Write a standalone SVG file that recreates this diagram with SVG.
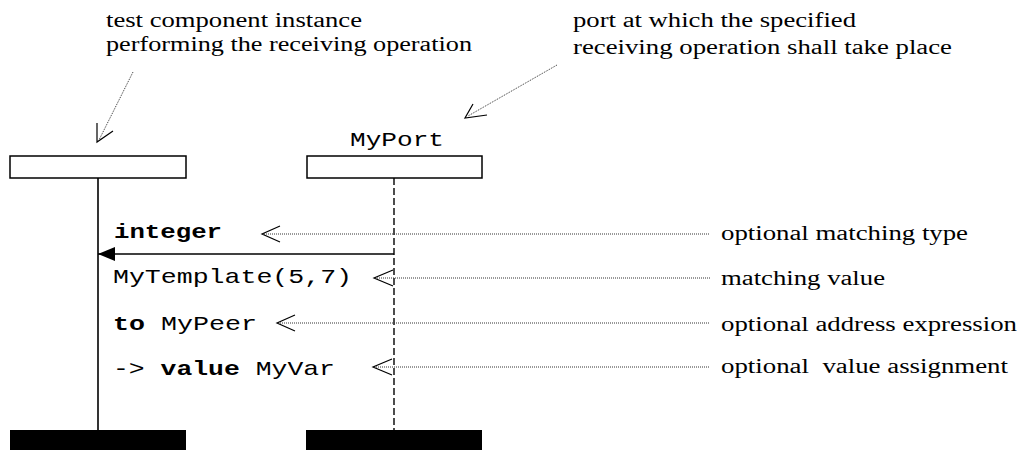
<svg xmlns="http://www.w3.org/2000/svg" width="1020" height="450" viewBox="0 0 1020 450">
<style>
.serif{font-family:"Liberation Serif","Times New Roman",Times,"DejaVu Serif",serif;font-size:20px;fill:#000}
.mono{font-family:"Liberation Mono","Courier New",Courier,"DejaVu Sans Mono",monospace;font-size:21px;fill:#000}
.b{font-weight:bold}
.box{fill:#fff;stroke:#000;stroke-width:1.5}
.bar{fill:#000}
.life{stroke:#000;stroke-width:1.6;fill:none}
.dash{stroke:#000;stroke-width:1.4;stroke-dasharray:7,3;fill:none}
.dot{stroke:#333;stroke-width:1;stroke-dasharray:1,1;fill:none}
.open{stroke:#000;stroke-width:1.2;fill:none}
.msg{stroke:#000;stroke-width:1.6;fill:none}
</style>
<defs>
<marker id="filled" markerWidth="18" markerHeight="16" refX="17" refY="8" orient="auto" markerUnits="userSpaceOnUse">
<path d="M0,1 L17,8 L0,15 Z" fill="#000"/>
</marker>
</defs>
<rect width="1020" height="450" fill="#fff"/>

<g id="note-instance">
<text class="serif" x="106" y="27" textLength="256" lengthAdjust="spacingAndGlyphs">test component instance</text>
<text class="serif" x="106" y="51" textLength="366" lengthAdjust="spacingAndGlyphs">performing the receiving operation</text>
</g>
<g id="note-port">
<text class="serif" x="573" y="27" textLength="283" lengthAdjust="spacingAndGlyphs">port at which the specified</text>
<text class="serif" x="573" y="54" textLength="379" lengthAdjust="spacingAndGlyphs">receiving operation shall take place</text>
</g>

<g id="instance">
<rect class="box" x="10" y="156" width="176" height="22"/>
<line class="life" x1="98" y1="178" x2="98" y2="430"/>
<rect class="bar" x="10" y="430" width="176" height="22"/>
</g>

<g id="port">
<text class="mono" x="350" y="146" textLength="94" lengthAdjust="spacingAndGlyphs">MyPort</text>
<rect class="box" x="307" y="156" width="175" height="22"/>
<line class="dash" x1="394" y1="178" x2="394" y2="430"/>
<rect class="bar" x="306" y="430" width="176" height="22"/>
</g>

<g id="message">
<text class="mono b" x="114" y="238" textLength="108" lengthAdjust="spacingAndGlyphs">integer</text>
<text class="mono" x="113" y="283" textLength="239" lengthAdjust="spacingAndGlyphs">MyTemplate(5,7)</text>
<text class="mono" x="113" y="330" textLength="144" lengthAdjust="spacingAndGlyphs"><tspan class="b">to</tspan> MyPeer</text>
<text class="mono" x="113" y="375" textLength="222" lengthAdjust="spacingAndGlyphs">-&gt; <tspan class="b">value</tspan> MyVar</text>
</g>

<g id="labels">
<text class="serif" x="721" y="240" textLength="247" lengthAdjust="spacingAndGlyphs">optional matching type</text>
<text class="serif" x="721" y="285" textLength="164" lengthAdjust="spacingAndGlyphs">matching value</text>
<text class="serif" x="721" y="331" textLength="296" lengthAdjust="spacingAndGlyphs">optional address expression</text>
<text class="serif" x="721" y="373" textLength="287" lengthAdjust="spacingAndGlyphs" xml:space="preserve">optional  value assignment</text>
</g>

<g id="connectors">
<line class="msg" x1="394" y1="254" x2="98" y2="254" marker-end="url(#filled)"/>
<line class="dot" x1="133" y1="72" x2="99" y2="140"/>
<polyline class="open" points="97,123 97,142 113,131"/>
<line class="dot" x1="557" y1="65" x2="468" y2="116"/>
<polyline class="open" points="473,104 465,118 487,115"/>
<line class="dot" x1="264" y1="234" x2="710" y2="234"/>
<polyline class="open" points="280,226 262,234 280,242"/>
<line class="dot" x1="375" y1="278" x2="710" y2="278"/>
<polyline class="open" points="393,270 374,278 393,286"/>
<line class="dot" x1="278" y1="323" x2="710" y2="323"/>
<polyline class="open" points="295,315 277,323 295,331"/>
<line class="dot" x1="374" y1="367" x2="710" y2="367"/>
<polyline class="open" points="392,359 373,367 392,375"/>
</g>
</svg>
